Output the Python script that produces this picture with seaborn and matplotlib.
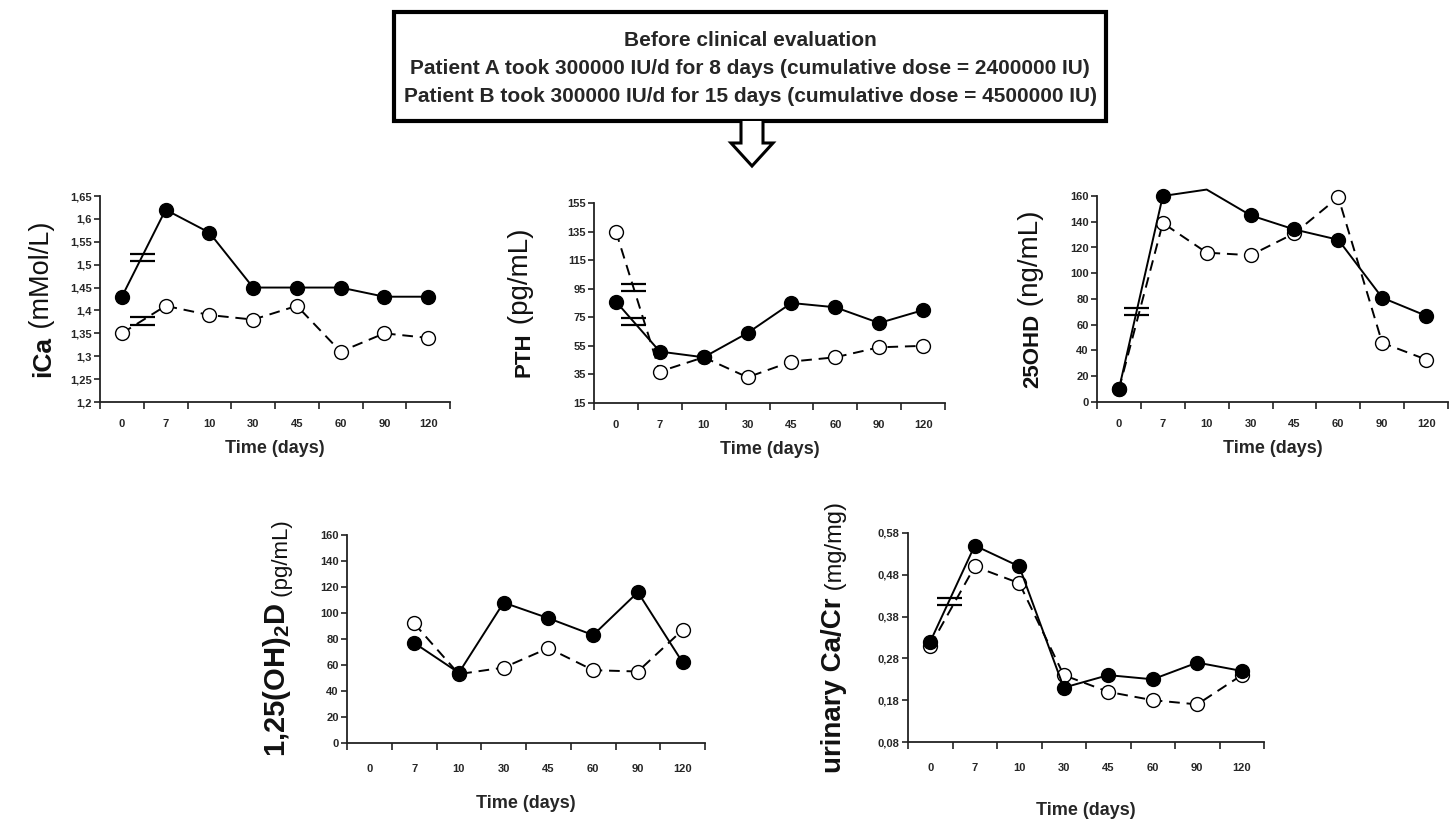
"""
Vitamin D intoxication follow-up of two patients:
five lab values over time, patient A (filled) vs patient B (open)
"""
import numpy as np
import pandas as pd
import matplotlib
matplotlib.use('Agg')
import matplotlib.pyplot as plt
import seaborn as sns
from matplotlib import transforms
from matplotlib.patches import Rectangle, Polygon

# data
days = ['0', '7', '10', '30', '45', '60', '90', '120']

ica_a = [1.43, 1.62, 1.57, 1.45, 1.45, 1.45, 1.43, 1.43]
ica_b = [1.35, 1.41, 1.39, 1.38, 1.41, 1.31, 1.35, 1.34]
ica_ticks = [1.2, 1.25, 1.3, 1.35, 1.4, 1.45, 1.5, 1.55, 1.6, 1.65]

pth_a = [86, 51, 47, 64, 85, 82, 71, 80]
pth_b = [135, 37, 47, 33, 44, 47, 54, 55]
pth_ticks = [15, 35, 55, 75, 95, 115, 135, 155]

ohd_a = [10, 160, 165, 145, 134, 126, 81, 67]
ohd_b = [10, 139, 116, 114, 131, 159, 46, 33]
ohd_ticks = [0, 20, 40, 60, 80, 100, 120, 140, 160]

dhd_a = [np.nan, 77, 54, 108, 96, 83, 116, 62]
dhd_b = [np.nan, 92, 53, 58, 73, 56, 55, 87]
dhd_ticks = [0, 20, 40, 60, 80, 100, 120, 140, 160]

uca_a = [0.32, 0.55, 0.50, 0.21, 0.24, 0.23, 0.27, 0.25]
uca_b = [0.31, 0.50, 0.46, 0.24, 0.20, 0.18, 0.17, 0.24]
uca_ticks = [0.08, 0.18, 0.28, 0.38, 0.48, 0.58]

box_lines = ['Before clinical evaluation',
             'Patient A took 300000 IU/d for 8 days (cumulative dose = 2400000 IU)',
             'Patient B took 300000 IU/d for 15 days (cumulative dose = 4500000 IU)']

sns.set_style('ticks')
plt.rcParams['font.family'] = ['Liberation Sans', 'DejaVu Sans']
plt.rcParams['mathtext.default'] = 'regular'

W, H = 1450, 822
fig = plt.figure(figsize=(14.5, 8.22), dpi=100)

# panel specs: data, ticks, labels, then layout (pixels: left, right, top, bottom)
panels = [
    dict(a=ica_a, b=ica_b, ticks=ica_ticks, name='iCa', units='(mMol/L)',
         box=(100, 450, 196, 402), dx=-57, nsize=19, usize=19.5, breaks=[('a', 0.45), ('b', 0.45)],
         xpad=12, xlpad=8),
    dict(a=pth_a, b=pth_b, ticks=pth_ticks, name='PTH', units='(pg/mL)',
         box=(594, 945, 203, 403), dx=-70, nsize=16, usize=20, breaks=[('a', 0.4), ('b', 0.4)],
         xpad=12, xlpad=8),
    dict(a=ohd_a, b=ohd_b, ticks=ohd_ticks, name='25OHD', units='(ng/mL)',
         box=(1097, 1448, 196, 402), dx=-64, nsize=16, usize=20, breaks=[('a', 0.4)],
         xpad=12, xlpad=8, skip=[2]),
    dict(a=dhd_a, b=dhd_b, ticks=dhd_ticks, name='1,25(OH)$_2$D', units='(pg/mL)',
         box=(347, 705, 535, 743), dx=-70, nsize=21, usize=16, breaks=[],
         xpad=15, xlpad=15),
    dict(a=uca_a, b=uca_b, ticks=uca_ticks, name='urinary Ca/Cr', units='(mg/mg)',
         box=(908, 1264, 533, 742), dx=-74, nsize=20, usize=17, breaks=[('a', 0.42)],
         xpad=15, xlpad=21),
]

ylabels = []
for p in panels:
    l, r, t, b = p['box']
    ax = fig.add_axes([l / W, 1 - b / H, (r - l) / W, (b - t) / H])
    df = pd.DataFrame({'pos': np.arange(len(days)), 'a': p['a'], 'b': p['b']})

    sns.lineplot(data=df, x='pos', y='b', ax=ax, estimator=None, errorbar=None,
                 color='black', lw=1.4, linestyle=(0, (5.5, 3.5)),
                 marker='o', markersize=10, markerfacecolor='white',
                 markeredgecolor='black', markeredgewidth=1.0, zorder=2, clip_on=False)
    n_a = int(df['a'].notna().sum())
    keep = [i for i in range(n_a) if i not in p.get('skip', [])]
    sns.lineplot(data=df, x='pos', y='a', ax=ax, estimator=None, errorbar=None,
                 color='black', lw=1.4, marker='o', markersize=10,
                 markerfacecolor='black', markeredgecolor='black',
                 markeredgewidth=1.0, markevery=keep, zorder=3, clip_on=False)

    # "=" break marks between day 0 and day 7
    for key, xb in p['breaks']:
        vals = np.array(p[key], dtype=float)
        ok = ~np.isnan(vals)
        yb = np.interp(xb, np.arange(len(days))[ok], vals[ok])
        for off in (-2.6, 2.6):
            tr = transforms.offset_copy(ax.transData, fig=fig, x=0, y=off, units='points')
            ax.plot([xb], [yb], marker='_', markersize=18, mew=1.6, color='black',
                    transform=tr, zorder=4, clip_on=False)

    ax.set_xlim(-0.5, len(days) - 0.5)
    ax.set_ylim(p['ticks'][0], p['ticks'][-1])
    ax.set_xticks(np.arange(-0.5, len(days), 1))
    ax.set_xticklabels([])
    ax.set_xticks(np.arange(len(days)), minor=True)
    ax.set_xticklabels(days, minor=True, fontsize=8, fontweight='bold')
    ax.tick_params(axis='x', which='major', direction='out', length=5, width=1.2, color='#222222')
    ax.tick_params(axis='x', which='minor', length=0, pad=p['xpad'])
    ax.set_yticks(p['ticks'])
    ax.set_yticklabels([f'{v:g}'.replace('.', ',') for v in p['ticks']],
                       fontsize=8, fontweight='bold')
    ax.tick_params(axis='y', direction='out', length=4, width=1.2, pad=2, color='#222222')
    sns.despine(ax=ax)
    for s in ('left', 'bottom'):
        ax.spines[s].set_linewidth(1.3)
        ax.spines[s].set_color('#222222')
    ax.set_xlabel('Time (days)', fontsize=13, fontweight='bold', labelpad=p['xlpad'])
    ax.set_ylabel('')

    # y label: bold name + lighter units, same baseline
    tr = transforms.offset_copy(ax.transAxes, fig=fig, x=p['dx'], y=0, units='dots')
    t1 = ax.text(0, 0.5, p['name'], transform=tr, rotation=90, ha='center', va='bottom',
                 fontsize=p['nsize'], fontweight='bold', color='#111111')
    t2 = ax.annotate(' ' + p['units'], xy=(1, 1), xycoords=t1, rotation=90,
                     ha='right', va='bottom', fontsize=p['usize'], color='#111111')
    ylabels.append((ax, t1, t2))

# centre the two-part y labels on their axes
fig.canvas.draw()
rend = fig.canvas.get_renderer()
for ax, t1, t2 in ylabels:
    h = t1.get_window_extent(rend).height + t2.get_window_extent(rend).height
    t1.set_y(0.5 - h / 2 / ax.get_window_extent(rend).height)

# header box with arrow
def fx(x):
    return x / W

def fy(y):
    return 1 - y / H

fig.patches.append(Rectangle((fx(394), fy(121)), fx(712), 109 / H, transform=fig.transFigure,
                             facecolor='white', edgecolor='black', lw=3, zorder=1))
arrow = [(741, 121), (741, 143), (731, 143), (752, 166), (773, 143), (763, 143), (763, 121)]
fig.patches.append(Polygon([(fx(x), fy(y)) for x, y in arrow], closed=False,
                           transform=fig.transFigure, facecolor='white',
                           edgecolor='black', lw=2.2, zorder=2))
for i, line in enumerate(box_lines):
    fig.text(fx(750), fy(40 + 28 * i), line, ha='center', va='center',
             fontsize=15, fontweight='bold', zorder=3)

fig.savefig('out.png', dpi=100)
